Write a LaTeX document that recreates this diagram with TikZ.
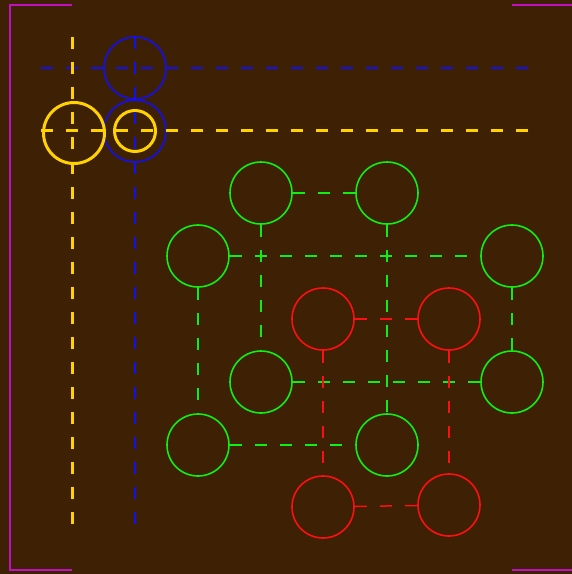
\documentclass[tikz,border=0pt]{standalone}
\usepackage{tikz}
\usetikzlibrary{positioning}
\definecolor{bgbrown}{HTML}{3E2004}
\definecolor{ringgreen}{HTML}{11EE11}
\definecolor{ringred}{HTML}{FF1010}
\definecolor{ringblue}{HTML}{1010F0}
\definecolor{ringgold}{HTML}{FFD200}
\definecolor{framemag}{HTML}{C010C0}
\tikzset{
    ring/.style={circle,draw,minimum size=62pt,inner sep=0pt,line width=1.6pt},
    greenring/.style={ring,draw=ringgreen},
    redring/.style={ring,draw=ringred},
    bluering/.style={ring,draw=ringblue},
    goldring/.style={ring,draw=ringgold,line width=3pt},
    dashline/.style={dash pattern=on 12pt off 13pt},
    greenlink/.style={dashline,draw=ringgreen,line width=1.6pt},
    redlink/.style={dashline,draw=ringred,line width=1.5pt},
    blueguide/.style={dashline,draw=ringblue,line width=1.4pt},
    goldguide/.style={dashline,draw=ringgold,line width=3pt},
    corner/.style={draw=framemag,line width=2pt}
}
\begin{document}
\begin{tikzpicture}[x=1pt,y=-1pt]
\fill[bgbrown] (0,0) rectangle (572,574);
\useasboundingbox (0,0) rectangle (572,574);

% corner marks
\draw[corner] (72,5) -- (10,5) -- (10,570) -- (72,570);
\draw[corner] (512,5) -- (572,5);
\draw[corner] (512,570) -- (572,570);

% guide rings
\node[bluering] (b1) at (135,68) {};
\node[bluering] (b2) at (135,131) {};
\node[goldring,minimum size=61pt] (y1) at (74,133) {};
\node[goldring,minimum size=41pt] (y2) at (135,131) {};

\coordinate (bh0) at (41,68);
\coordinate (bh1) at (535,68);
\coordinate (bv0) at (135,37);
\coordinate (bv1) at (135,525);
\coordinate (yh0) at (41,130);
\coordinate (yh1) at (535,130);
\coordinate (yv0) at (72,37);
\coordinate (yv1) at (72,525);

\draw[blueguide] (bh0) -- (bh1);
\draw[blueguide] (bv0) -- (bv1);
\draw[goldguide] (yh0) -- (yh1);
\draw[goldguide] (yv0) -- (yv1);

% green rings
\node[greenring] (g1) at (261,193) {};
\node[greenring] (g2) at (387,193) {};
\node[greenring] (g3) at (198,256) {};
\node[greenring] (g4) at (512,256) {};
\node[greenring] (g5) at (261,382) {};
\node[greenring] (g6) at (512,382) {};
\node[greenring] (g7) at (198,445) {};
\node[greenring] (g8) at (387,445) {};

% red rings
\node[redring] (r1) at (323,319) {};
\node[redring] (r2) at (449,319) {};
\node[redring] (r3) at (323,507) {};
\node[redring] (r4) at (449,505) {};

\draw[greenlink] (g1) -- (g2);
\draw[greenlink] (g3) -- (g4);
\draw[greenlink] (g1) -- (g5);
\draw[greenlink] (g2) -- (g8);
\draw[greenlink] (g3) -- (g7);
\draw[greenlink] (g4) -- (g6);
\draw[greenlink] (g5) -- (g6);
\draw[greenlink] (g7) -- (g8);

\draw[redlink] (r1) -- (r2);
\draw[redlink] (r1) -- (r3);
\draw[redlink] (r2) -- (r4);
\draw[redlink] (r3) -- (r4);
\end{tikzpicture}
\end{document}
